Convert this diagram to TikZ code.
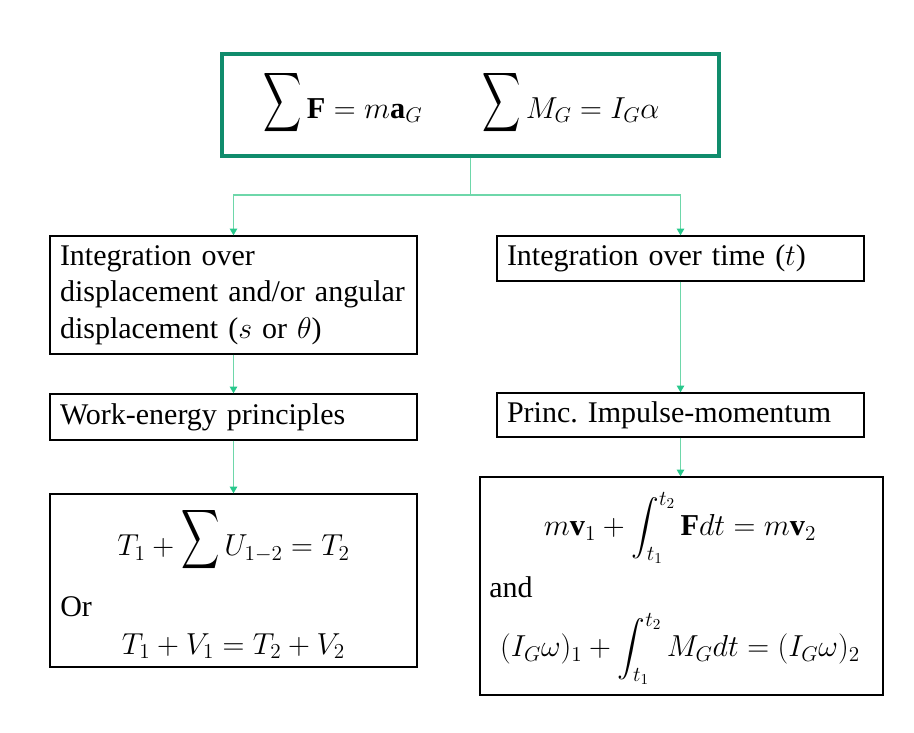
\RequirePackage{fix-cm}
\documentclass[tikz,border=0pt]{standalone}
\usepackage{fontspec}
\usepackage{amsmath}
\usepackage{graphicx}
\setmainfont{Liberation Serif}
\frenchspacing
\usetikzlibrary{arrows.meta}
\definecolor{topteal}{RGB}{16,140,108}
\definecolor{connline}{RGB}{110,215,170}
\definecolor{conntip}{RGB}{40,200,140}
\newcommand{\bigsumop}{\mathop{\raisebox{0.15em}{\scalebox{0.96}[1.5]{$\displaystyle\sum$}}}\nolimits}
\begin{document}
\begin{tikzpicture}[x=0.75pt,y=-0.75pt,
  every node/.style={font=\fontsize{22.5}{27.4}\selectfont},
  box/.style={draw=black,line width=1pt,minimum width=275.25pt,inner sep=0pt},
  txtbox/.style={box,text width=260.25pt,align=left,inner xsep=7.5pt},
  topbox/.style={draw=topteal,line width=2.4pt,minimum width=372.75pt,minimum height=76.5pt,inner sep=0pt},
  conn/.style={draw=connline,line width=1.1pt,-{Triangle[width=5.5pt,length=5pt,color=conntip]}},
  plain/.style={inner sep=0pt},
  eqn/.style={inner sep=0pt,font=\fontsize{22.75}{28}\selectfont}
]
\useasboundingbox (0,0) rectangle (914,732);

% top box
\node[topbox] (top) at (470.5,105) {};
\node[eqn] (eqF) at (343,102.5) {$\bigsumop\mathbf{F}=m\mathbf{a}_G$};
\node[eqn] (eqM) at (571,102.5) {$\bigsumop M_G=I_G\alpha$};

% left column
\node[txtbox,minimum height=88.5pt] (lb1) at (233.5,295)
  {Integration over\\displacement and/or angular\\displacement ($s$ or $\theta$)};
\node[txtbox,minimum height=34.5pt] (lb2) at (233.5,417) {Work-energy principles};
\node[box,minimum height=129.75pt] (lb3) at (233.5,580.5) {};
\node[eqn] (eqT) at (233.5,540) {$T_1+\bigsumop U_{1-2}=T_2$};
\node[plain,anchor=west] (or) at (60,607) {Or};
\node[eqn] (eqV) at (233.5,646) {$T_1+V_1=T_2+V_2$};

% right column
\node[txtbox,minimum height=33.75pt] (rb1) at (680.5,258.5) {Integration over time ($t$)};
\node[txtbox,minimum height=33pt] (rb2) at (680.5,415) {Princ. Impulse-momentum};
\node[box,minimum width=302.25pt,minimum height=163.5pt] (rb3) at (681.5,586) {};
\node[eqn] (eqI1) at (680,528) {$\displaystyle m\mathbf{v}_1+\int_{t_1}^{t_2}\mathbf{F}dt=m\mathbf{v}_2$};
\node[plain,anchor=west] (and) at (489,587) {and};
\node[eqn] (eqI2) at (680,649) {$\displaystyle (I_G\omega)_1+\int_{t_1}^{t_2}M_G dt=(I_G\omega)_2$};

% connectors
\coordinate (junc) at (471,195);
\draw[conn] (top.south) -- (top.south |- junc) -| (lb1.north);
\draw[conn] (top.south |- junc) -| (rb1.north);
\draw[conn] (lb1.south) -- (lb2.north);
\draw[conn] (lb2.south) -- (lb3.north -| lb2.south);
\draw[conn] (rb1.south) -- (rb2.north);
\draw[conn] (rb2.south) -- (rb2.south |- rb3.north);
\end{tikzpicture}
\end{document}
